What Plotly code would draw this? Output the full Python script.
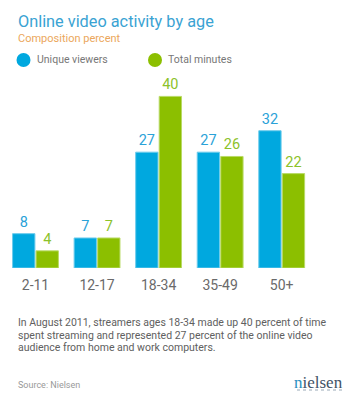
import plotly.graph_objects as go

categories = ["2-11", "12-17", "18-34", "35-49", "50+"]
unique_viewers = [8, 7, 27, 27, 32]
total_minutes = [4, 7, 40, 26, 22]
series_names = ["Unique viewers", "Total minutes"]

title = "Online video activity by age"
subtitle = "Composition percent"
note_lines = [
    "In August 2011, streamers ages 18-34 made up 40 percent of time",
    "spent streaming and represented 27 percent of the online video",
    "audience from home and work computers.",
]
source = "Source: Nielsen"

W, H = 350, 396
ML, MR, MT, MB = 0, 0, 70, 128
PH = H - MT - MB
FONT = "Roboto"

BLUE = "#00a8df"
BLUE_LINE = "#6ccbec"
BLUE_TXT = "#2aa2d8"
GREEN = "#8cbf00"
GREEN_LINE = "#b9da66"
GREEN_TXT = "#8cc22a"

def px(x):
    return (x - ML) / (W - ML - MR)

def py(y):
    return (H - MB - y) / PH

fig = go.Figure()
fig.add_trace(go.Bar(
    x=categories, y=unique_viewers, name=series_names[0],
    marker=dict(color=BLUE, line=dict(color=BLUE_LINE, width=1)),
    text=[str(v) for v in unique_viewers], textposition="outside",
    textfont=dict(family=FONT, size=14.5, color=BLUE_TXT),
    cliponaxis=False, showlegend=False,
))
fig.add_trace(go.Bar(
    x=categories, y=total_minutes, name=series_names[1],
    marker=dict(color=GREEN, line=dict(color=GREEN_LINE, width=1)),
    text=[str(v) for v in total_minutes], textposition="outside",
    textfont=dict(family=FONT, size=14.5, color=GREEN_TXT),
    cliponaxis=False, showlegend=False,
))

step = 61.55
c0 = 35.5
fig.update_xaxes(
    range=[(0 - c0) / step, (W - c0) / step],
    showgrid=False, zeroline=False, showline=False, ticks="",
    tickfont=dict(family=FONT, size=14, color="#6a6a6a"),
    ticklabelstandoff=7,
)
fig.update_yaxes(
    range=[0, PH / 4.29], visible=False, showgrid=False, zeroline=False,
)

annotations = [
    dict(text=title, x=px(15.5), y=py(21), xanchor="left", yanchor="middle",
         font=dict(family=FONT, size=16.3, color="#3aa3d3")),
    dict(text=subtitle, x=px(16), y=py(38.5), xanchor="left", yanchor="middle",
         font=dict(family=FONT, size=11, color="#eba75c")),
    dict(text=series_names[0], x=px(34.5), y=py(60), xanchor="left", yanchor="middle",
         font=dict(family=FONT, size=10.5, color="#777777")),
    dict(text=series_names[1], x=px(166), y=py(60), xanchor="left", yanchor="middle",
         font=dict(family=FONT, size=10.5, color="#777777")),
    dict(text=source, x=px(16), y=py(385), xanchor="left", yanchor="middle",
         font=dict(family=FONT, size=9, color="#999999")),
    dict(text="<span style='color:#2b8fc0'>n</span>ielsen", x=px(345), y=py(382),
         xanchor="right", yanchor="middle",
         font=dict(family="Liberation Serif", size=17, color="#3f5266")),
]
line_y = [322.5, 335, 347]
for txt, yy in zip(note_lines, line_y):
    annotations.append(dict(text=txt, x=px(16), y=py(yy), xanchor="left", yanchor="middle",
                            font=dict(family=FONT, size=10.5, color="#606060")))
for a in annotations:
    a.update(xref="paper", yref="paper", showarrow=False)

shapes = [
    dict(type="circle", xref="paper", yref="paper",
         x0=px(16.5), x1=px(30.5), y0=py(53), y1=py(67),
         fillcolor=BLUE, line=dict(width=0)),
    dict(type="circle", xref="paper", yref="paper",
         x0=px(148), x1=px(162), y0=py(53), y1=py(67),
         fillcolor=GREEN, line=dict(width=0)),
    dict(type="line", xref="paper", yref="paper",
         x0=px(297), x1=px(344), y0=py(390), y1=py(390),
         line=dict(color="#9aaab8", width=1.2, dash="dot")),
]

fig.update_layout(
    width=W, height=H,
    margin=dict(l=ML, r=MR, t=MT, b=MB, pad=0),
    paper_bgcolor="white", plot_bgcolor="white",
    barmode="group", bargap=0.236, bargroupgap=0.05,
    annotations=annotations, shapes=shapes,
    showlegend=False,
)

fig.write_html("out.html")
